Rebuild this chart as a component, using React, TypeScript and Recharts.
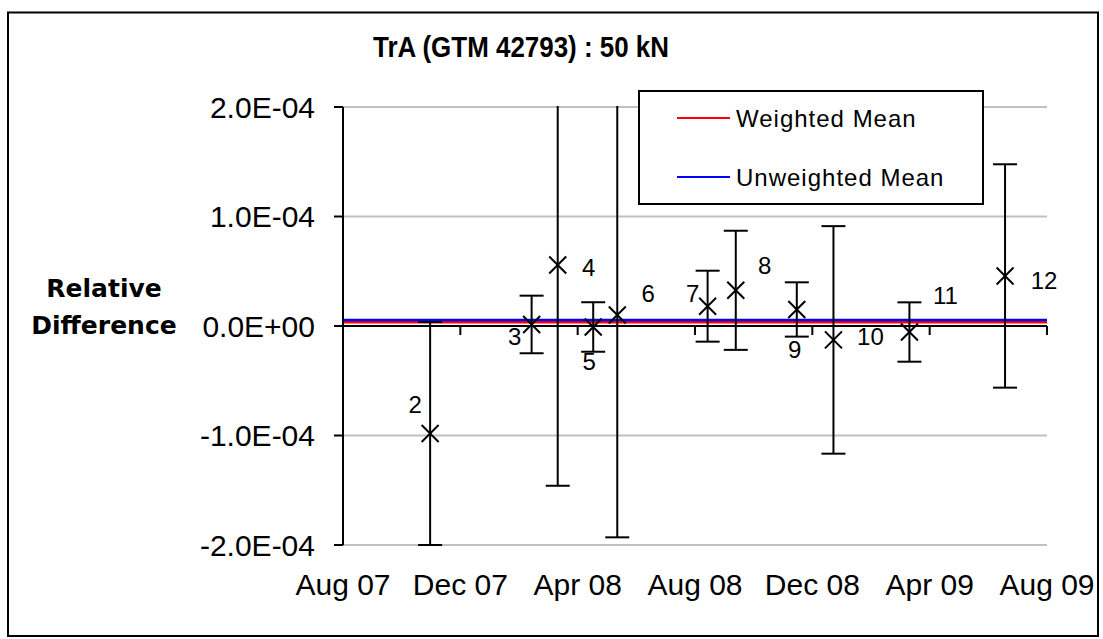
import { ComposedChart, Scatter, ErrorBar, XAxis, YAxis, CartesianGrid, ReferenceLine } from "recharts";

// measurement points, x in months since Aug 2007
const pointLabels = ["2", "3", "4", "5", "6", "7", "8", "9", "10", "11", "12"];
const monthsSinceAug07 = [2.97, 6.43, 7.32, 8.53, 9.35, 12.43, 13.39, 15.47, 16.72, 19.31, 22.57];
const relDiff = [-0.982e-4, 0.014e-4, 0.557e-4, -0.009e-4, 0.1e-4, 0.181e-4, 0.326e-4, 0.151e-4, -0.127e-4, -0.055e-4, 0.457e-4];
const uncertainty = [1.018e-4, 0.263e-4, 2.016e-4, 0.226e-4, 2.03e-4, 0.324e-4, 0.544e-4, 0.248e-4, 1.039e-4, 0.271e-4, 1.02e-4];

const weightedMean = 0.034e-4;
const unweightedMean = 0.055e-4;

const xTicks = [0, 4, 8, 12, 16, 20, 24];
const xTickLabels = ["Aug 07", "Dec 07", "Apr 08", "Aug 08", "Dec 08", "Apr 09", "Aug 09"];
const yTicks = [-2e-4, -1e-4, 0, 1e-4, 2e-4];
const yTickLabels = ["-2.0E-04", "-1.0E-04", "0.0E+00", "1.0E-04", "2.0E-04"];

// where each point's number sits relative to its marker (px)
const labelOffsets: [number, number][] = [
  [-15, -29], [-17, 12], [31, 2], [-4, 35], [31, -22], [-15, -13],
  [29, -25], [-2, 40], [37, -3], [36, -37], [39, 5],
];

const W = 1103;
const H = 639;
const M = { top: 107, right: 56, bottom: 34, left: 0 };
const Y_AXIS_W = 343;
const X_AXIS_H = 60;
const PLOT_W = W - M.left - M.right - Y_AXIS_W;
const PLOT_H = H - M.top - M.bottom - X_AXIS_H;
const FONT = "'Liberation Sans', Arial, sans-serif";

const data = pointLabels.map((label, i) => ({
  idx: i,
  label,
  t: monthsSinceAug07[i],
  value: relDiff[i],
  err: uncertainty[i],
}));

function CrossMarker({ cx, cy }: any) {
  const s = 8.5;
  return (
    <g stroke="#000" strokeWidth={2}>
      <line x1={cx - s} y1={cy - s} x2={cx + s} y2={cy + s} />
      <line x1={cx - s} y1={cy + s} x2={cx + s} y2={cy - s} />
    </g>
  );
}

function PointLabel({ cx, cy, payload }: any) {
  const [dx, dy] = labelOffsets[payload.idx];
  return (
    <text x={cx + dx} y={cy + dy} textAnchor="middle" dominantBaseline="central" fontSize={24} fontFamily={FONT} fill="#000">
      {payload.label}
    </text>
  );
}

function MonthTick({ x, y, payload }: any) {
  const i = xTicks.indexOf(payload.value);
  const zeroY = y - PLOT_H / 2;
  return (
    <g>
      <line x1={x} x2={x} y1={zeroY} y2={zeroY + 9} stroke="#000" strokeWidth={2} />
      <text x={x} y={y + 50} textAnchor="middle" fontSize={30} fontFamily={FONT} fill="#000">
        {xTickLabels[i]}
      </text>
    </g>
  );
}

export default function App() {
  return (
    <div style={{ position: "absolute", left: 0, top: 0, width: W, height: H, background: "#fff" }}>
      <style>{`.recharts-errorBars, .recharts-errorBar { clip-path: url(#plotClip); }`}</style>
      <ComposedChart width={W} height={H} data={data} margin={M}>
        <CartesianGrid vertical={false} stroke="#c0c0c0" strokeWidth={2} />
        <XAxis
          type="number"
          dataKey="t"
          domain={[0, 24]}
          ticks={xTicks}
          height={X_AXIS_H}
          axisLine={false}
          tickLine={false}
          tickSize={0}
          tickMargin={0}
          tick={<MonthTick />}
          interval={0}
        />
        <YAxis
          type="number"
          dataKey="value"
          domain={[-2e-4, 2e-4]}
          allowDataOverflow
          ticks={yTicks}
          width={Y_AXIS_W}
          tickSize={9}
          tickMargin={19}
          axisLine={{ stroke: "#000", strokeWidth: 2 }}
          tickLine={{ stroke: "#000", strokeWidth: 2 }}
          tick={{ fill: "#000", fontSize: 30, fontFamily: FONT }}
          tickFormatter={(v: number) => yTickLabels[yTicks.findIndex((t) => Math.abs(t - v) < 1e-9)]}
        />
        <YAxis yAxisId="labels" type="number" dataKey="value" domain={[-2e-4, 2e-4]} hide />
        <ReferenceLine y={0} stroke="#000" strokeWidth={2} />
        <ReferenceLine y={weightedMean} stroke="#ff0000" strokeWidth={2.5} />
        <ReferenceLine y={unweightedMean} stroke="#0000ff" strokeWidth={2.5} />
        <Scatter data={data} shape={<CrossMarker />} isAnimationActive={false}>
          <ErrorBar dataKey="err" direction="y" width={12} stroke="#000" strokeWidth={2} isAnimationActive={false} />
        </Scatter>
        <Scatter data={data} yAxisId="labels" shape={<PointLabel />} isAnimationActive={false} />
      </ComposedChart>
      <svg width={W} height={H} style={{ position: "absolute", left: 0, top: 0, pointerEvents: "none" }}>
        <defs>
          <clipPath id="plotClip" clipPathUnits="userSpaceOnUse">
            <rect x={M.left + Y_AXIS_W - 10} y={M.top - 1} width={PLOT_W + 20} height={PLOT_H + 2} />
          </clipPath>
        </defs>
        <rect x={8} y={12.5} width={1090} height={623.5} fill="none" stroke="#000" strokeWidth={2} />
        <text
          x={521}
          y={47}
          textAnchor="middle"
          dominantBaseline="central"
          fontSize={29}
          fontWeight="bold"
          fontFamily={FONT}
          textLength={296}
          lengthAdjust="spacingAndGlyphs"
        >
          TrA (GTM 42793) : 50 kN
        </text>
        <text textAnchor="middle" fontSize={25} fontWeight="bold" fontFamily="'DejaVu Sans', sans-serif">
          <tspan x={104} y={297}>Relative</tspan>
          <tspan x={104} y={334}>Difference</tspan>
        </text>
        <rect x={639} y={91} width={344} height={113} fill="#fff" stroke="#000" strokeWidth={2} />
        <line x1={677} x2={730} y1={118} y2={118} stroke="#ff0000" strokeWidth={2} />
        <text x={736} y={118} dominantBaseline="central" fontSize={24} letterSpacing={1} fontFamily={FONT}>
          Weighted Mean
        </text>
        <line x1={677} x2={730} y1={177} y2={177} stroke="#0000ff" strokeWidth={2} />
        <text x={736} y={177} dominantBaseline="central" fontSize={24} letterSpacing={1} fontFamily={FONT}>
          Unweighted Mean
        </text>
      </svg>
    </div>
  );
}
